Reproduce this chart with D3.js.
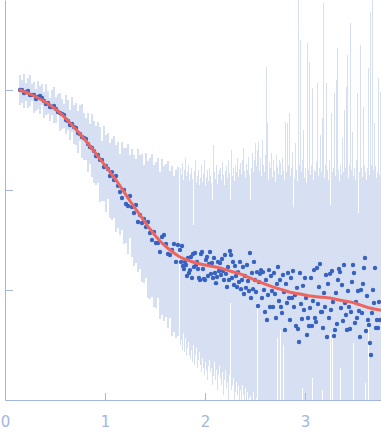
<!DOCTYPE html>
<html>
<head>
<meta charset="utf-8" />
<title>Scattering curve</title>
<script src="https://d3js.org/d3.v7.min.js"></script>
<style>
  body { margin: 0; background: #fff; }
  svg { display: block; }
  .axis path, .axis line { stroke: #a3b7de; }
  .axis text { fill: #a3b7de; font-family: "DejaVu Sans", sans-serif; font-size: 15px; }
</style>
</head>
<body>
<svg id="chart" width="381" height="438"></svg>
<script>
// scattering vector q (nm^-1)
var qValues = [
  0.15,0.17,0.19,0.21,0.23,0.25,0.27,0.29,0.31,0.33,
  0.35,0.37,0.39,0.41,0.43,0.45,0.47,0.49,0.51,0.53,
  0.55,0.57,0.59,0.61,0.63,0.65,0.67,0.69,0.71,0.73,
  0.75,0.77,0.79,0.81,0.83,0.85,0.87,0.89,0.91,0.93,
  0.95,0.97,0.99,1.01,1.03,1.05,1.07,1.09,1.11,1.13,
  1.15,1.17,1.19,1.21,1.23,1.25,1.27,1.29,1.31,1.33,
  1.35,1.37,1.39,1.41,1.43,1.45,1.47,1.49,1.51,1.53,
  1.55,1.57,1.59,1.61,1.63,1.65,1.67,1.69,1.71,1.73,
  1.75,1.76,1.77,1.78,1.79,1.80,1.81,1.82,1.83,1.84,
  1.85,1.86,1.87,1.88,1.89,1.90,1.91,1.92,1.93,1.94,
  1.95,1.96,1.97,1.98,1.99,2.00,2.01,2.02,2.03,2.04,
  2.05,2.06,2.07,2.08,2.09,2.10,2.11,2.12,2.13,2.14,
  2.15,2.16,2.17,2.18,2.19,2.20,2.21,2.22,2.23,2.24,
  2.25,2.26,2.27,2.28,2.29,2.30,2.31,2.32,2.33,2.34,
  2.35,2.36,2.37,2.38,2.39,2.40,2.41,2.42,2.43,2.44,
  2.45,2.46,2.47,2.48,2.49,2.50,2.51,2.52,2.53,2.54,
  2.55,2.56,2.57,2.58,2.59,2.60,2.61,2.62,2.63,2.64,
  2.65,2.66,2.67,2.68,2.69,2.70,2.71,2.72,2.73,2.74,
  2.75,2.76,2.77,2.78,2.79,2.80,2.81,2.82,2.83,2.84,
  2.85,2.86,2.87,2.88,2.89,2.90,2.91,2.92,2.93,2.94,
  2.95,2.96,2.97,2.98,2.99,3.00,3.01,3.02,3.03,3.04,
  3.05,3.06,3.07,3.08,3.09,3.10,3.11,3.12,3.13,3.14,
  3.15,3.16,3.17,3.18,3.19,3.20,3.21,3.22,3.23,3.24,
  3.25,3.26,3.27,3.28,3.29,3.30,3.31,3.32,3.33,3.34,
  3.35,3.36,3.37,3.38,3.39,3.40,3.41,3.42,3.43,3.44,
  3.45,3.46,3.47,3.48,3.49,3.50,3.51,3.52,3.53,3.54,
  3.55,3.56,3.57,3.58,3.59,3.60,3.61,3.62,3.63,3.64,
  3.65,3.66,3.67,3.68,3.69,3.70,3.71,3.72,3.73,3.74,3.75
];

// measured intensity
var intensity = [
  1000,1000,933,955,977,891,891,891,813,851,
  871,832,776,724,741,676,676,692,646,603,
  589,575,562,501,490,447,457,427,417,372,
  363,339,331,324,288,269,263,245,219,224,
  200,200,170,174,162,138,151,126,138,110,
  95.5,83.2,100,72.4,69.2,87.1,67.6,58.9,70.8,47.9,
  56.2,46.8,51.3,42.7,47.9,37.2,31.6,38.0,29.5,29.5,
  24.0,33.9,35.5,28.8,22.9,22.4,25.1,28.8,19.1,28.2,
  25.1,19.1,27.5,17.4,16.2,19.1,17.8,13.8,20.9,14.8,
  15.8,21.4,13.2,22.9,17.0,23.4,17.8,19.1,16.2,13.2,
  12.6,22.9,24.0,16.2,12.9,12.6,20.0,21.4,13.8,18.2,
  24.0,14.5,18.6,13.2,20.9,14.8,11.7,13.5,19.1,15.5,
  18.6,14.1,20.4,15.5,12.6,22.4,14.5,10.7,17.0,12.6,
  24.5,22.4,13.2,19.1,11.2,17.4,13.8,10.7,15.1,12.0,
  19.1,10.2,12.6,17.0,9.12,13.8,10.5,17.8,12.3,9.77,
  23.4,8.32,14.8,10.2,19.1,12.6,9.55,15.1,6.92,12.0,
  14.5,15.8,8.32,15.1,10.0,6.03,12.6,5.01,8.91,15.8,
  6.76,13.8,9.77,6.76,14.8,9.12,5.25,11.5,17.0,7.76,
  12.6,6.76,5.89,14.1,9.55,3.98,11.5,7.41,14.8,8.32,
  5.01,13.2,8.32,15.5,6.76,8.91,4.37,10.5,4.07,3.02,
  14.8,7.24,5.13,11.0,6.31,13.2,8.32,3.55,5.25,4.37,
  6.61,13.2,4.37,7.76,15.8,5.25,4.79,16.6,7.24,10.7,
  18.2,6.03,6.03,4.17,9.33,6.76,14.1,3.39,11.5,5.25,
  14.5,6.31,15.5,7.59,3.47,3.98,9.33,4.57,12.6,16.2,
  15.1,6.61,11.2,4.90,17.8,7.41,5.62,3.98,9.77,6.76,
  4.07,6.03,12.0,17.8,14.8,4.68,7.59,5.25,9.77,6.17,
  3.39,10.0,5.89,11.5,16.6,20.9,3.89,8.71,5.01,4.47,
  2.95,2.24,5.89,10.0,7.41,16.6,4.17,5.01,4.17,7.59,5.01
];

// error bar ends (upper / lower), 0 = below zero
var upper = [
  1400,1260,1445,1175,1318,1413,1148,1202,1023,1230,
  1096,1148,955,1148,977,832,1000,1072,851,912,
  933,813,724,891,794,631,851,708,741,617,
  708,724,589,525,589,457,575,490,437,479,
  427,309,437,355,372,295,324,347,282,302,
  229,302,263,263,288,224,257,224,204,257,
  224,229,178,234,195,209,229,178,191,209,
  151,204,174,182,195,155,174,138,158,170,
  166,141,186,126,158,209,138,151,178,123,
  145,166,129,44.7,155,200,117,138,158,112,
  132,178,120,145,200,110,135,158,123,166,
  138,117,79.4,282,151,129,178,115,145,158,
  166,126,191,141,112,155,174,132,200,148,
  79.4,251,138,166,123,178,151,209,135,162,
  186,145,200,263,155,132,182,158,214,141,
  79.4,166,234,151,200,295,174,251,302,155,
  209,138,316,178,151,224,1698,468,126,191,
  166,234,135,200,155,120,224,170,145,200,
  186,141,209,158,126,479,151,468,178,589,
  138,166,240,67.6,132,295,158,123,8000,178,
  3162,151,200,398,132,166,117,2951,158,1905,
  141,178,1047,126,158,151,191,1175,138,166,
  355,151,525,7413,132,178,1175,158,126,200,
  70.8,589,151,166,933,138,1259,2630,158,123,
  178,141,331,151,631,166,1072,2239,132,178,
  4677,158,380,138,166,126,200,933,58.9,151,
  2818,166,135,676,178,151,126,166,1660,141,
  6026,178,8000,158,468,174,132,151,1318,141,955
];

var lower = [
  708,741,661,776,661,692,776,589,617,646,
  575,708,525,562,575,490,562,468,468,575,
  389,407,417,363,398,316,380,288,282,234,
  309,209,200,200,151,182,135,117,112,117,
  75.9,77.6,77.6,60.3,81.3,52.5,50.1,52.5,38.0,41.7,
  35.5,39.8,28.8,29.5,22.9,33.1,21.4,17.4,18.6,15.1,
  16.2,12.0,11.7,13.2,8.3,8.1,8.5,6.8,6.6,8.3,
  5.1,5.6,4.9,5.4,4.2,5.2,3.5,3.8,3.3,3.5,
  2.82,3.16,2.51,3.72,2.40,3.31,2.19,2.63,3.02,2.24,
  2.09,2.51,1.91,2.82,1.78,2.24,2.63,1.66,2.00,2.40,
  1.78,1.51,2.09,1.66,1.41,1.91,1.58,1.26,1.74,2.00,
  1.51,1.66,1.12,1.38,1.91,1.26,1.58,1.00,1.41,1.74,
  1.32,1.12,1.51,0.891,1.26,1.58,1.05,1.20,0.794,1.41,
  7.41,1.00,1.12,1.32,0.794,0.955,1.20,0.891,1.10,0.794,
  1.00,0.794,1.12,0.891,0.794,1.05,0,0.955,0.794,0.832,
  0.871,0,0.794,0.955,0,0.63,0.832,7.41,0,0.794,
  0,0,0,0,0,0,0,0,0,0,
  0,0,0,0,0,0,0,3.31,0,0,
  3.98,0,0,2.82,0,0,0,0,0,0,
  0,0,0,0,0,0,0,0,0,0,
  0,0,1.05,0,0,0,0,0,0,0,
  0,0,1.32,0,0,0,0,0,0,0,
  0,0,1.00,0,0,0,0,0,0,0,
  3.72,0,3.72,0,0,0,0,0,0,0,
  1.66,0,0,0,0,0,0,0,0,0,
  0,0,0,2.95,0,0,0,0,0,0,
  0,0,0,0,0,1.17,0,0,4.68,0,
  0,0,0,0,0,0,0,0,0,0,0
];

// model fit
var fitQ = [0.15,0.25,0.35,0.45,0.55,0.65,0.75,0.85,0.95,1.05,1.15,1.25,1.35,1.45,1.55,1.65,1.75,1.85,1.95,
            2.05,2.15,2.25,2.35,2.45,2.55,2.65,2.75,2.85,2.95,3.05,3.15,3.25,3.35,3.45,3.55,3.65,3.75];
var fitI = [1000,912,813,708,589,468,363,275,204,151,110,77.6,56.2,40.7,30.9,25.1,21.4,19.5,18.2,
            17.4,16.6,15.5,14.5,13.2,12.0,11.0,10.2,9.5,9.1,8.7,8.5,8.3,7.9,7.6,7.1,6.6,6.3];

var xTicks = [0, 1, 2, 3];
var yTicks = [10, 100, 1000];

var svg = d3.select("#chart");

var x = d3.scaleLinear().domain([0, 3.76]).range([5, 381]);
var y = d3.scaleLog().domain([0.794, 7943]).range([400, 0]);
var yMin = y.domain()[0];

svg.append("clipPath").attr("id", "plot")
  .append("rect").attr("x", 5).attr("y", 0).attr("width", 376).attr("height", 400);

var rows = qValues.map(function(q, i) {
  return { q: q, v: intensity[i], lo: lower[i], hi: upper[i] };
});

var plot = svg.append("g").attr("clip-path", "url(#plot)");

// error bars
plot.append("g")
  .selectAll("rect")
  .data(rows)
  .enter().append("rect")
  .attr("shape-rendering", "crispEdges")
  .attr("fill", "#d6e0f2")
  .attr("x", function(d, i) {
    var w = i < rows.length - 1 ? x(rows[i + 1].q) - x(d.q) : 1;
    return x(d.q) - w / 2;
  })
  .attr("width", function(d, i) {
    return i < rows.length - 1 ? x(rows[i + 1].q) - x(d.q) : 1;
  })
  .attr("y", function(d) { return y(d.hi); })
  .attr("height", function(d) { return y(Math.max(d.lo, yMin)) - y(d.hi); });

// points
plot.append("g")
  .selectAll("circle")
  .data(rows)
  .enter().append("circle")
  .attr("cx", function(d) { return x(d.q); })
  .attr("cy", function(d) { return y(d.v); })
  .attr("r", 2.2)
  .attr("fill", "#3762c2");

// fit line
var line = d3.line()
  .x(function(d, i) { return x(fitQ[i]); })
  .y(function(d) { return y(d); })
  .curve(d3.curveMonotoneX);

plot.append("path")
  .datum(fitI)
  .attr("d", line)
  .attr("fill", "none")
  .attr("stroke", "#ee655f")
  .attr("stroke-width", 3)
  .attr("stroke-linecap", "round");

// axes
svg.append("g")
  .attr("class", "axis")
  .attr("transform", "translate(0,400)")
  .call(d3.axisBottom(x).tickValues(xTicks).tickSize(-7).tickSizeOuter(0)
    .tickPadding(16).tickFormat(d3.format("d")))
  .call(function(g) { g.selectAll("text").attr("font-size", null).attr("font-family", null); });

svg.append("g")
  .attr("class", "axis")
  .attr("transform", "translate(5,0)")
  .call(d3.axisLeft(y).tickValues(yTicks).tickSize(-8).tickSizeOuter(0).tickFormat(""));
</script>
</body>
</html>
